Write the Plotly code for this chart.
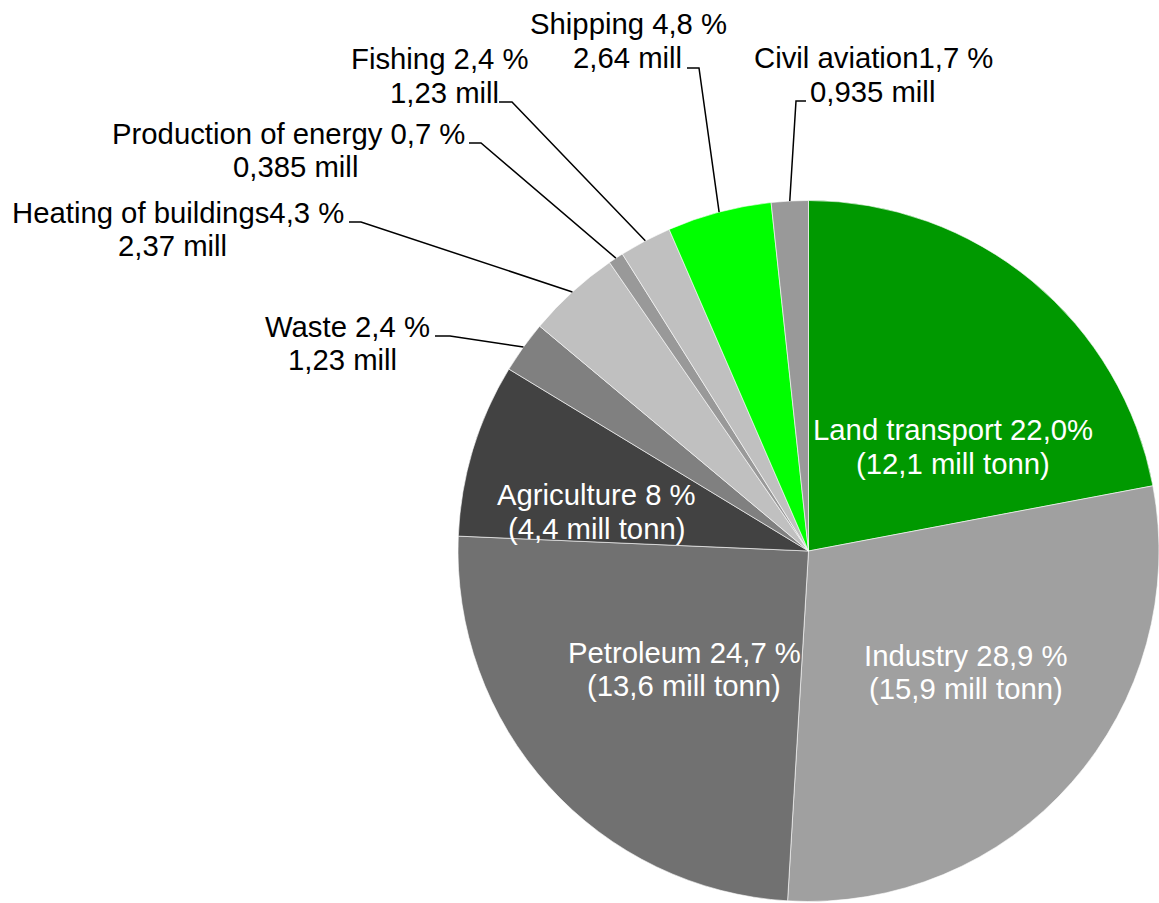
import math
import plotly.graph_objects as go

# ---------------- data ----------------
categories = ["Land transport", "Industry", "Petroleum", "Agriculture", "Waste",
              "Heating of buildings", "Production of energy", "Fishing", "Shipping",
              "Civil aviation"]
percent = [22.0, 28.9, 24.7, 8.0, 2.4, 4.3, 0.7, 2.4, 4.8, 1.7]
mill_tonn = [12.1, 15.9, 13.6, 4.4, 1.23, 2.37, 0.385, 1.23, 2.64, 0.935]
label_line1 = ["Land transport 22,0%", "Industry 28,9 %", "Petroleum 24,7 %",
               "Agriculture 8 %", "Waste 2,4 %", "Heating of buildings4,3 %",
               "Production of energy 0,7 %", "Fishing 2,4 %", "Shipping 4,8 %",
               "Civil aviation1,7 %"]
label_line2 = ["(12,1 mill tonn)", "(15,9 mill tonn)", "(13,6 mill tonn)",
               "(4,4 mill tonn)", "1,23 mill", "2,37 mill", "0,385 mill",
               "1,23 mill", "2,64 mill", "0,935 mill"]

# ---------------- styles / layout ----------------
colors = ["#009900", "#a0a0a0", "#717171", "#424242", "#808080",
          "#c0c0c0", "#999999", "#c0c0c0", "#00ff00", "#999999"]
inside = [True, True, True, True, False, False, False, False, False, False]

W, H = 1159, 903
FS = 29.3
FONT = "Liberation Sans, Arial, sans-serif"

# pie geometry (screen pixels) - right edge limited to figure width
R = 350.5
CX, CY = W - R, 551.0

# label placement in screen pixels: (x line1, x line2, baseline1, baseline2)
label_pos = [
    (953, 953, 439, 473),
    (966, 966, 665, 698),
    (684, 684, 662, 695),
    (596, 596, 504, 538),
    (347, 342, 336, 369),
    (178, 172, 222, 255),
    (288, 295, 143, 176),
    (440, 444, 68, 102),
    (628, 627, 33, 67),
    (874, 872, 67, 101),
]
# leader line start and elbow (screen pixels) for outside labels
leader = {
    4: ((435, 336), (450, 336)),
    5: ((349, 222), (361, 222)),
    6: ((469, 143), (481, 143)),
    7: ((499, 102), (512, 102)),
    8: ((687, 68), (699, 68)),
    9: ((806, 101), (796, 101)),
}


def px(x):
    return x / W


def py(y):
    return 1 - y / H


dom_x = [px(CX - R), px(CX + R)]
dom_y = [py(CY + R), py(CY - R)]

fig = go.Figure(go.Pie(
    labels=categories,
    values=percent,
    customdata=mill_tonn,
    sort=False,
    direction="clockwise",
    rotation=0,
    marker=dict(colors=colors, line=dict(color="white", width=0.6)),
    textinfo="none",
    hoverinfo="label+percent",
    showlegend=False,
    domain=dict(x=dom_x, y=dom_y),
))

annotations = []
for i in range(len(categories)):
    x1, x2, b1, b2 = label_pos[i]
    col = "white" if inside[i] else "black"
    for txt, xx, bb in ((label_line1[i], x1, b1), (label_line2[i], x2, b2)):
        annotations.append(dict(
            x=px(xx), y=py(bb - 0.33 * FS), xref="paper", yref="paper",
            text=txt, showarrow=False, xanchor="center", yanchor="middle",
            font=dict(family=FONT, size=FS, color=col),
        ))

shapes = []
total = sum(percent)
cum = 0.0
for i, v in enumerate(percent):
    mid = (cum + v / 2) / total * 2 * math.pi
    cum += v
    if i in leader:
        ex = CX + R * math.sin(mid)
        ey = CY - R * math.cos(mid)
        (sx, sy), (kx, ky) = leader[i]
        path = "M {} {} L {} {} L {} {}".format(px(sx), py(sy), px(kx), py(ky), px(ex), py(ey))
        shapes.append(dict(type="path", path=path, xref="paper", yref="paper",
                           line=dict(color="black", width=1.5)))

fig.update_layout(
    width=W, height=H,
    margin=dict(l=0, r=0, t=0, b=0),
    paper_bgcolor="white",
    plot_bgcolor="white",
    annotations=annotations,
    shapes=shapes,
)

fig.write_html("out.html",
               config={"displayModeBar": False},
               post_script="document.body.style.margin='0px';"
                           "document.documentElement.style.overflow='hidden';")
